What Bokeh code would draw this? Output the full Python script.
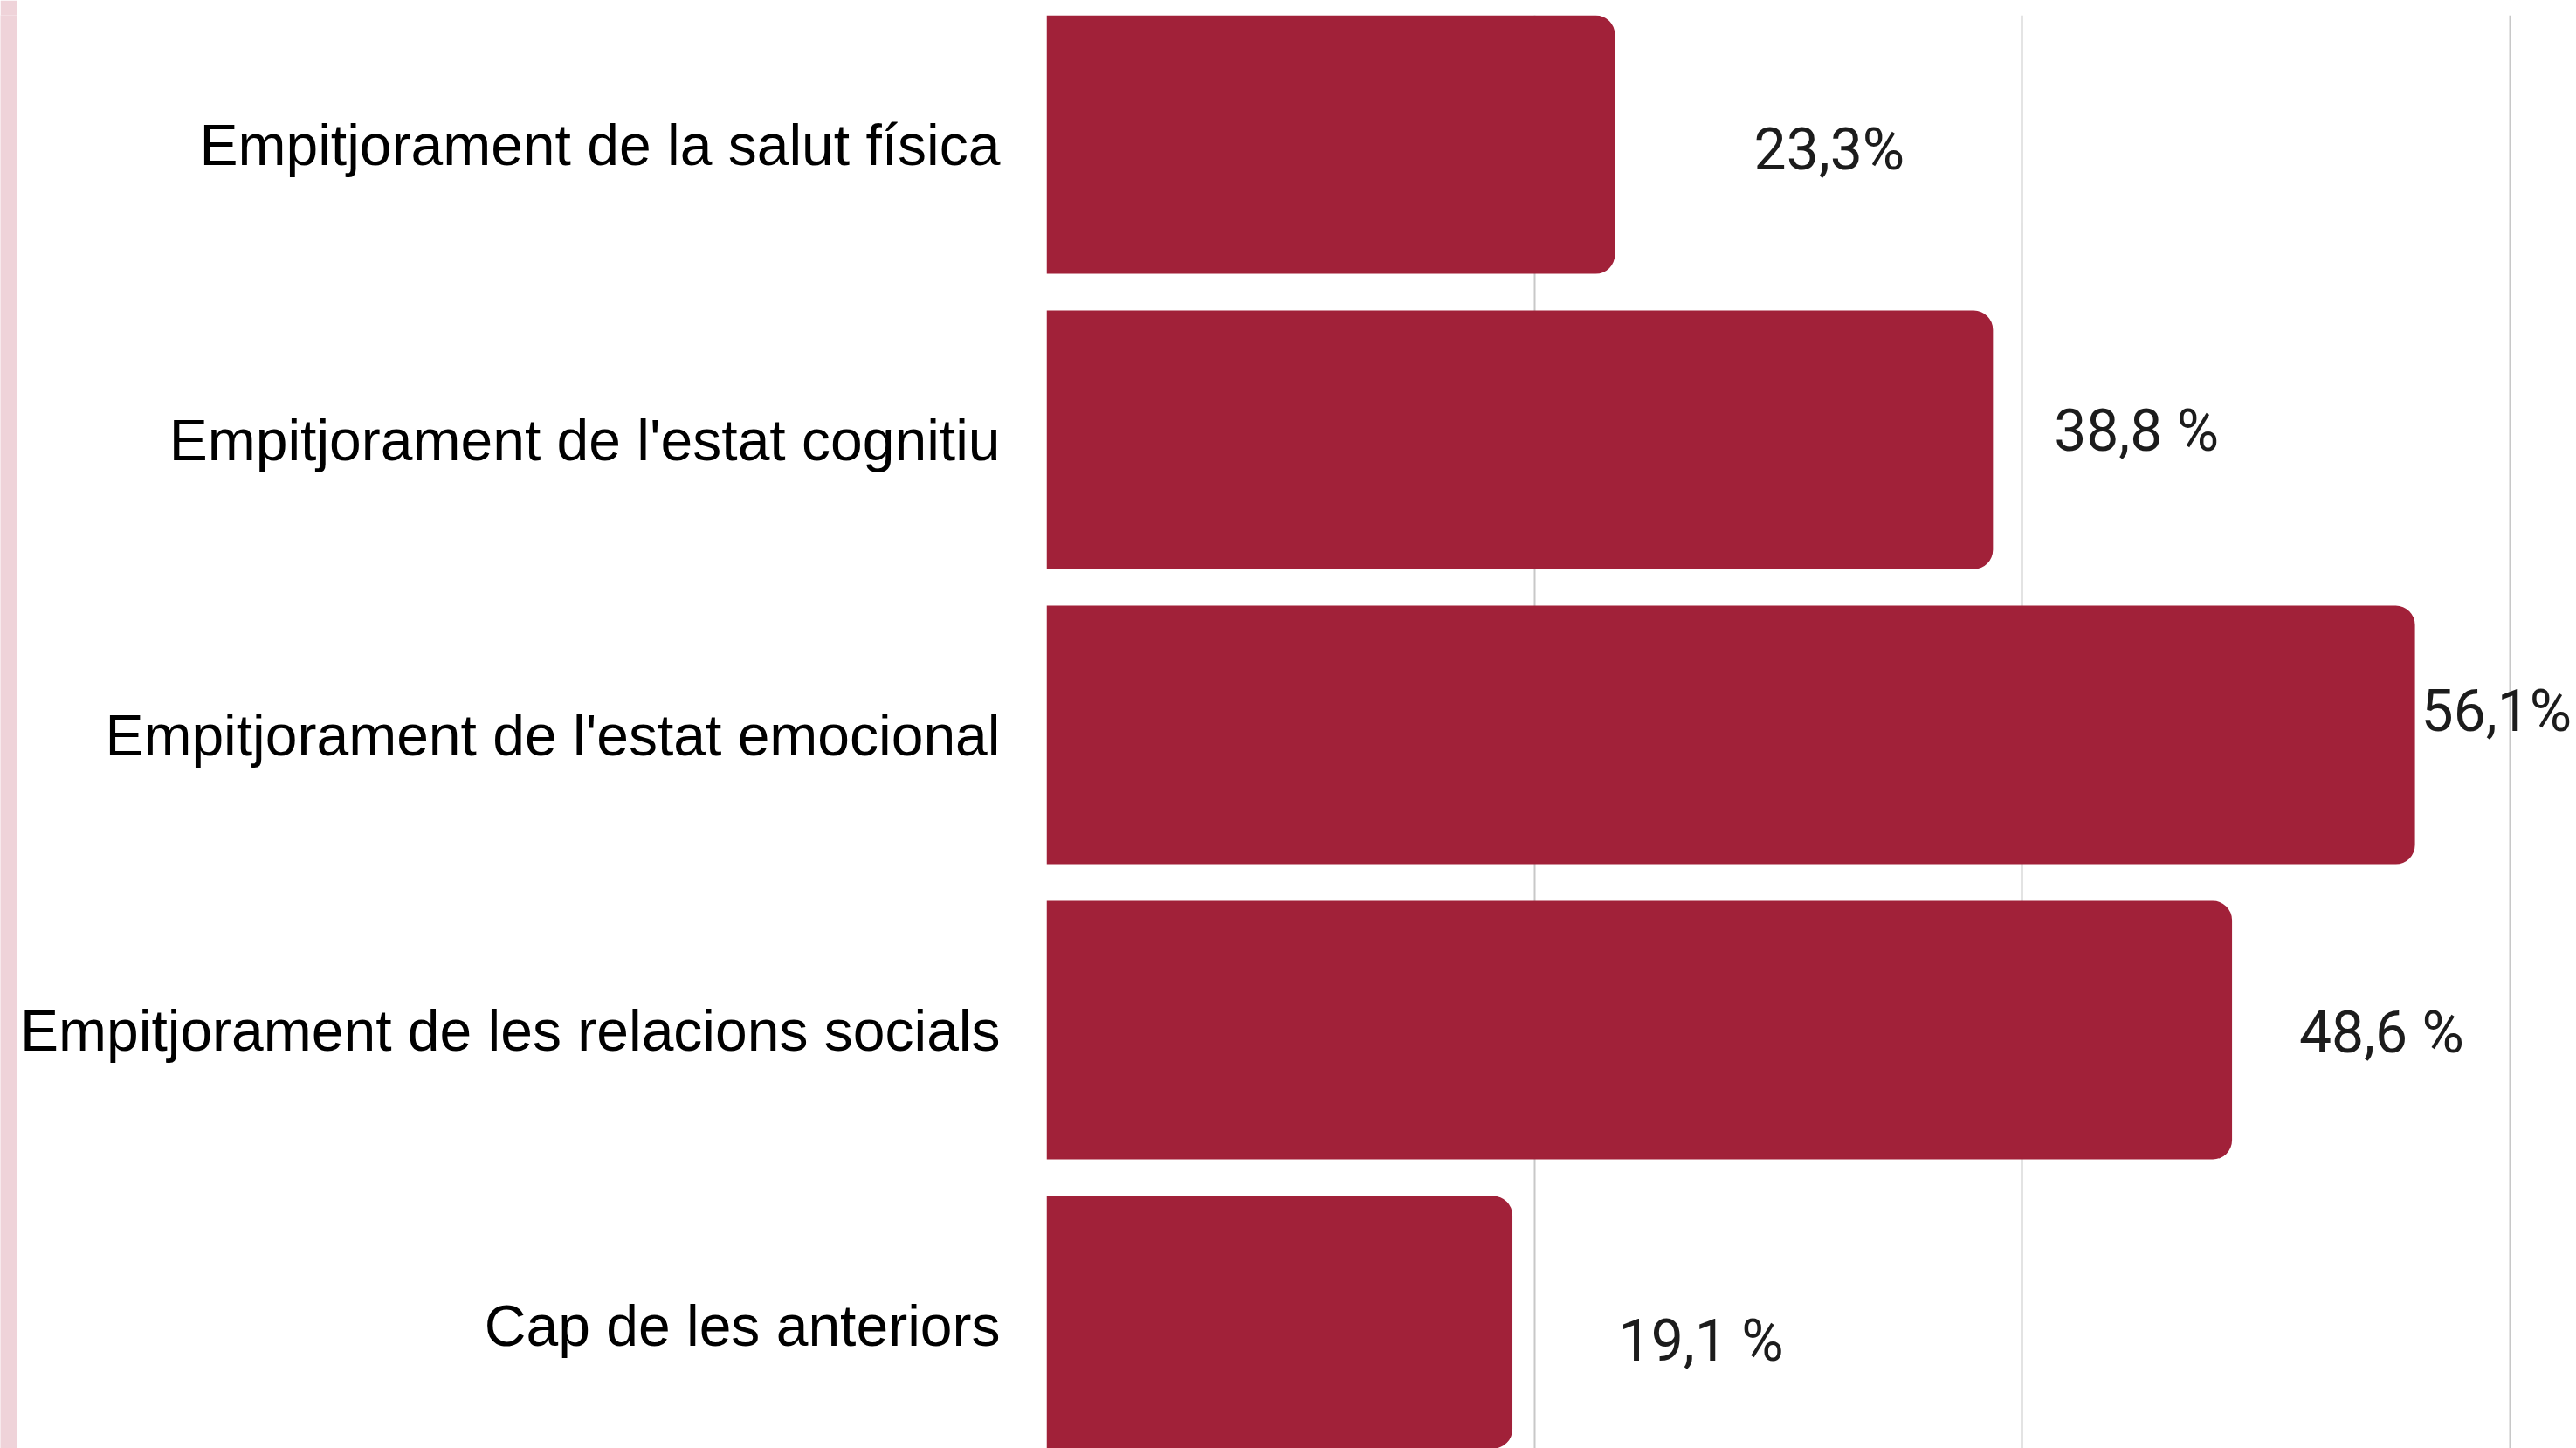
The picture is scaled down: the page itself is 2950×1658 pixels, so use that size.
from bokeh.plotting import figure
from bokeh.models import ColumnDataSource, Range1d, FixedTicker
from bokeh.layouts import row
from bokeh.embed import file_html
from bokeh.resources import INLINE
from bokeh.core.properties import value

# ---- data ----
categories = [
    "Empitjorament de la salut física",
    "Empitjorament de l'estat cognitiu",
    "Empitjorament de l'estat emocional",
    "Empitjorament de les relacions socials",
    "Cap de les anteriors",
]
percentages = [23.3, 38.8, 56.1, 48.6, 19.1]
value_labels = ["23,3%", "38,8 %", "56,1%", "48,6 %", "19,1 %"]
x_ticks = [0, 20, 40, 60]

# ---- label placement (style, not data) ----
label_gap = [5.7, 2.5, 0.25, 2.75, 4.35]   # in % units from bar end
label_shift = [6, -10, -27, 3, 18]         # px (positive = down)

pos = list(range(len(categories)))
src = ColumnDataSource(dict(
    y=pos,
    v=percentages,
    lx=[v + g for v, g in zip(percentages, label_gap)],
    dy=label_shift,
    txt=value_labels,
))

BAR = "#a12139"

p = figure(
    width=2930, height=1658,
    x_range=Range1d(0, 62.72),
    y_range=Range1d(4.417, -0.438),
    output_backend="svg", toolbar_location=None,
    min_border_left=1177, min_border_right=0,
    min_border_top=17, min_border_bottom=0,
)
p.outline_line_color = None
p.background_fill_color = "white"
p.border_fill_color = "white"

p.hbar(y="y", left=0, right="v", height=0.876, source=src,
       fill_color=BAR, line_color=None,
       border_radius=(0, 22, 22, 0))

p.text(x="lx", y="y", text="txt", source=src, y_offset="dy",
       text_font=value("Roboto"), text_font_size="66px",
       text_color="#1c1c1c", text_align="left", text_baseline="middle")

# x axis hidden, grid kept
p.xaxis.ticker = FixedTicker(ticks=x_ticks)
p.xgrid.ticker = FixedTicker(ticks=x_ticks)
p.xgrid.grid_line_color = "#c8c8c8"
p.xgrid.grid_line_width = 2
p.xaxis.visible = False
p.ygrid.grid_line_color = None

# y axis with category names
p.yaxis.ticker = FixedTicker(ticks=pos)
p.yaxis.major_label_overrides = {i: c for i, c in zip(pos, categories)}
p.yaxis.axis_line_color = None
p.yaxis.major_tick_line_color = None
p.yaxis.minor_tick_line_color = None
p.yaxis.major_tick_out = 0
p.yaxis.major_tick_in = 0
p.yaxis.major_label_standoff = 53
p.yaxis.major_label_text_font = "Liberation Sans"
p.yaxis.major_label_text_font_size = "66px"
p.yaxis.major_label_text_color = "#000000"

strip = figure(width=20, height=1658, output_backend="svg",
               toolbar_location=None, min_border=0,
               x_range=Range1d(0, 1), y_range=Range1d(0, 1))
strip.axis.visible = False
strip.grid.visible = False
strip.outline_line_color = None
strip.background_fill_color = "#efd3d9"
strip.border_fill_color = "#efd3d9"

layout = row(strip, p, spacing=0)
open("out.html", "w").write(file_html(layout, INLINE))
